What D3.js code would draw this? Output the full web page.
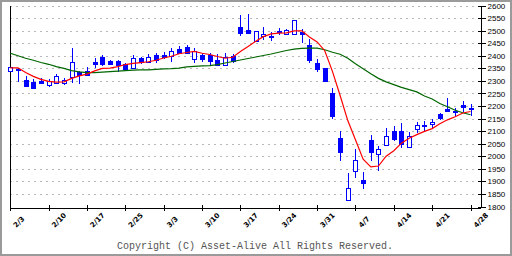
<!DOCTYPE html>
<html>
<head>
<meta charset="utf-8">
<script src="https://cdn.jsdelivr.net/npm/d3@7"></script>
<style>
  body { margin: 0; background: #fff; }
  svg { display: block; }
</style>
</head>
<body>
<svg width="512" height="256"></svg>
<script>
const width = 512, height = 256;
const plotLeft = 10, plotRight = 480, plotTop = 5.5, plotBottom = 206.5;
const svg = d3.select("svg");

// trading slots (weekdays), one candle per slot
const dates = [
  "2/3","2/4","2/5","2/6","2/7","2/10","2/11","2/12","2/13","2/14",
  "2/17","2/18","2/19","2/20","2/21","2/24","2/25","2/26","2/27","2/28",
  "3/3","3/4","3/5","3/6","3/7","3/10","3/11","3/12","3/13","3/14",
  "3/17","3/18","3/19","3/20","3/21","3/24","3/25","3/26","3/27","3/28",
  "3/31","4/1","4/2","4/3","4/4","4/7","4/8","4/9","4/10","4/11",
  "4/14","4/15","4/16","4/17","4/18","4/21","4/22","4/23","4/24","4/25","4/28"
];
const open = [2340,2346,2304,2296,2299,2282,2291,2292,2317,2337,2340,2376,2394,2381,2380,2367,2351,2391,2377,2401,
  2404,2398,2428,2433,2387,2404,2404,2384,2365,2398,2515,2503,2460,2477,2479,2496,2487,2486,2493,2443,
  2372,2350,2250,2072,1826,1940,1905,2066,2010,2043,2099,2101,2036,2108,2119,2127,2169,2188,2181,2205,2193];
const high = [2357,2351,2320,2307,2311,2308,2328,2311,2432,2340,2356,2390,2404,2383,2382,2372,2404,2397,2406,2410,
  2415,2430,2440,2442,2430,2410,2410,2406,2410,2407,2563,2566,2500,2516,2493,2510,2506,2543,2506,2466,
  2386,2351,2270,2101,1935,2028,1937,2085,2040,2113,2119,2134,2095,2138,2142,2148,2174,2232,2192,2221,2209];
const low = [2338,2297,2274,2269,2287,2276,2290,2284,2291,2287,2320,2351,2360,2365,2336,2344,2350,2367,2374,2371,
  2387,2375,2406,2407,2373,2377,2364,2363,2363,2372,2479,2487,2457,2461,2458,2483,2485,2485,2452,2372,
  2334,2300,2147,1982,1825,1915,1871,1983,1943,2042,2059,2032,2035,2092,2102,2113,2146,2176,2158,2177,2162];
const close = [2356,2344,2278,2270,2291,2300,2319,2304,2377,2325,2325,2369,2368,2367,2364,2348,2393,2376,2394,2384,
  2395,2418,2411,2411,2419,2388,2381,2364,2397,2381,2492,2491,2498,2487,2477,2498,2502,2542,2486,2383,
  2349,2301,2160,2015,1872,1985,1892,2017,2029,2081,2069,2049,2079,2124,2126,2137,2152,2179,2178,2196,2190];
// moving averages as drawn (red short, green long)
const maShort = [2352,2352,2333,2318,2306,2298,2295,2296,2310,2320,2327,2340,2350,2351,2357,2365,2370,2373,2376,2382,
  2391,2398,2408,2413,2417,2410,2405,2397,2390,2394,2417,2437,2458,2476,2487,2490,2491,2499,2499,2475,
  2455,2420,2338,2242,2142,2066,1988,1958,1961,2000,2022,2052,2072,2086,2099,2110,2129,2145,2157,2172,2178];
const maLong = [2410,2400,2390,2382,2373,2366,2357,2350,2341,2336,2333,2333,2335,2337,2339,2341,2343,2344,2344,2346,
  2348,2349,2351,2356,2358,2360,2361,2365,2371,2377,2383,2389,2395,2401,2407,2414,2421,2426,2429,2430,
  2430,2424,2414,2406,2390,2368,2348,2328,2310,2296,2285,2274,2265,2256,2240,2228,2210,2197,2183,2173,2165];

const yTicks = d3.range(1800, 2601, 50);
const tickDates = ["2/3","2/10","2/17","2/24","3/3","3/10","3/17","3/24","3/31","4/7","4/14","4/21","4/28"];
const tickLabels = ["2/3","2/10","2/17","2/25","3/3","3/10","3/17","3/24","3/31","4/7","4/14","4/21","4/28"];

const x = d3.scalePoint().domain(dates).range([10.3, 470.5]);
const y = d3.scaleLinear().domain([1800, 2600]).range([plotBottom, plotTop]);
const px = v => Math.round(v) + 0.5;

// outer frame
svg.append("rect")
  .attr("x", 1).attr("y", 1).attr("width", width - 2).attr("height", height - 2)
  .attr("fill", "#fff").attr("stroke", "#9a9a9a").attr("stroke-width", 2);

// dashed grid
svg.append("g")
  .selectAll("line")
  .data(yTicks.filter(v => v > 1800))
  .join("line")
  .attr("x1", plotLeft).attr("x2", plotRight)
  .attr("y1", d => px(y(d))).attr("y2", d => px(y(d)))
  .attr("stroke", "#b8b8b8")
  .attr("stroke-dasharray", "2,4")
  .attr("shape-rendering", "crispEdges");

// axes
const yAxis = svg.append("g")
  .attr("transform", `translate(${plotRight + 0.5},0)`)
  .call(d3.axisRight(y).tickValues(yTicks).tickFormat(d3.format("d"))
    .tickSize(5).tickPadding(3).tickSizeOuter(0));
yAxis.select(".domain").attr("stroke", "#000").attr("shape-rendering", "crispEdges");
yAxis.selectAll(".tick line").attr("x1", -3).attr("stroke", "#000").attr("shape-rendering", "crispEdges");
yAxis.selectAll(".tick text")
  .attr("x", 7)
  .style("font-family", "Liberation Sans, Arial, sans-serif")
  .style("font-size", "8px")
  .attr("fill", "#000");

const xAxis = svg.append("g")
  .attr("transform", `translate(0,${px(plotBottom)})`)
  .call(d3.axisBottom(x).tickValues(tickDates).tickSize(3).tickSizeOuter(0).tickFormat(""));
xAxis.select(".domain").attr("d", `M${plotLeft},0.5H${plotRight + 0.5}`).attr("stroke", "#000")
  .attr("shape-rendering", "crispEdges");
xAxis.selectAll(".tick line").attr("y1", -3).attr("stroke", "#000").attr("shape-rendering", "crispEdges");
xAxis.selectAll(".tick").attr("transform", d => `translate(${px(x(d))},0)`);

svg.append("line")
  .attr("x1", plotLeft + 0.5).attr("x2", plotLeft + 0.5)
  .attr("y1", plotTop).attr("y2", plotBottom)
  .attr("stroke", "#000").attr("shape-rendering", "crispEdges");

// rotated date labels
svg.append("g")
  .selectAll("text")
  .data(tickDates)
  .join("text")
  .attr("transform", d => `translate(${x(d) + 6},228) rotate(-45)`)
  .style("font-family", "DejaVu Sans, sans-serif")
  .style("font-size", "7px")
  .style("font-weight", "bold")
  .text((d, i) => tickLabels[i]);

// candles
const candles = svg.append("g");
dates.forEach((d, i) => {
  const cx = px(x(d));
  const up = close[i] >= open[i];
  candles.append("line")
    .attr("x1", cx).attr("x2", cx)
    .attr("y1", y(high[i])).attr("y2", y(low[i]))
    .attr("stroke", "#0000ff").attr("shape-rendering", "crispEdges");
  const top = Math.round(y(Math.max(open[i], close[i])));
  const bot = Math.round(y(Math.min(open[i], close[i])));
  if (up) {
    candles.append("rect")
      .attr("x", cx - 2).attr("y", top + 0.5)
      .attr("width", 4).attr("height", Math.max(1, bot - top))
      .attr("fill", "#fff").attr("stroke", "#0000ff")
      .attr("shape-rendering", "crispEdges");
  } else {
    candles.append("rect")
      .attr("x", cx - 2.5).attr("y", top)
      .attr("width", 5).attr("height", Math.max(2, bot - top + 1))
      .attr("fill", "#0000ff")
      .attr("shape-rendering", "crispEdges");
  }
});

// moving average lines
const line = d3.line().x((d, i) => x(dates[i])).y(d => y(d));
svg.append("path").datum(maLong)
  .attr("fill", "none").attr("stroke", "#006600").attr("stroke-width", 1.2).attr("d", line);
svg.append("path").datum(maShort)
  .attr("fill", "none").attr("stroke", "#ff0000").attr("stroke-width", 1.2).attr("d", line);

// copyright
svg.append("text")
  .attr("x", 117).attr("y", 249)
  .style("font-family", "Liberation Mono, DejaVu Sans Mono, monospace")
  .style("font-size", "10px")
  .attr("fill", "#555")
  .text("Copyright (C) Asset-Alive All Rights Reserved.");
</script>
</body>
</html>
